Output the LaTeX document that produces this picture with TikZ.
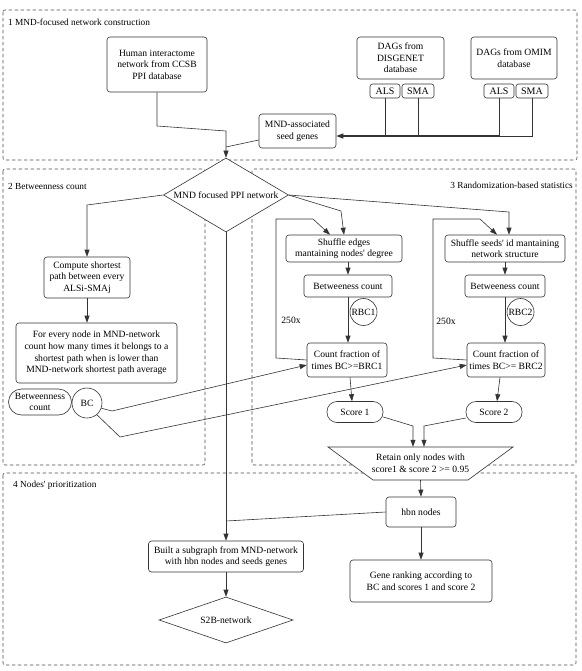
\documentclass[tikz,border=0pt]{standalone}
\usepackage{fontspec}
\setmainfont{Liberation Serif}[Ligatures=TeXOff]
\usetikzlibrary{arrows.meta,shapes.geometric,positioning}
\tikzset{
    flow-box/.style = {draw=black!80, fill=white, line width=0.6pt, rectangle, rounded corners=3pt, align=center, inner sep=1pt, font=\fontsize{9.6}{11.6}\selectfont},
    pill-box/.style = {flow-box, rounded corners=10pt},
    tag-box/.style = {flow-box, rounded corners=2.5pt, minimum height=14pt, font=\fontsize{10}{12}\selectfont},
    ring-node/.style = {draw=black!80, fill=white, circle, line width=0.6pt, inner sep=0pt, font=\fontsize{9.6}{11.6}\selectfont},
    choice-box/.style = {draw=black!80, fill=white, diamond, line width=0.6pt, inner sep=0pt, align=center, font=\fontsize{9.6}{11.6}\selectfont},
    section-frame/.style = {draw=black!70, dashed, dash pattern=on 3.5pt off 2.5pt, line width=0.6pt, rounded corners=2pt},
    section-title/.style = {font=\fontsize{9.3}{11}\selectfont, inner sep=0pt},
    plain-label/.style = {font=\fontsize{9.6}{11.6}\selectfont, inner sep=0pt},
    flow-line/.style = {draw=black!80, line width=0.6pt},
    flow-arrow/.style = {flow-line, -{Triangle[length=7pt,width=5pt]}},
}

\begin{document}
\begin{tikzpicture}[x=1pt, y=-1pt]
\useasboundingbox (0,0) rectangle (581,671);
% section frames
\draw[section-frame] (3,10) rectangle (577,160);
\draw[section-frame] (3,169) rectangle (205,465);
\draw[section-frame] (252,169) rectangle (576,465);
\draw[section-frame] (3,473) rectangle (576,665);
\node[section-title, anchor=west] (title-one) at (8,22) {1 MND-focused network construction};
\node[section-title, anchor=west] (title-two) at (8,186) {2 Betweenness count};
\node[section-title, anchor=east] (title-three) at (573,185) {3 Randomization-based statistics};
\node[section-title, anchor=west] (title-four) at (13,485) {4 Nodes' prioritization};

% 1 network construction
\node[flow-box, minimum width=100pt, minimum height=55pt] (human) at (157,64.5) {Human interactome\\network from CCSB\\PPI database};
\node[flow-box, minimum width=87pt, minimum height=42pt] (disgenet) at (400.5,58) {DAGs from\\DISGENET\\database};
\node[flow-box, minimum width=86pt, minimum height=42pt] (omim) at (514,58) {DAGs from OMIM\\database};
\node[tag-box, minimum width=30pt] (als-one) at (385,91) {ALS};
\node[tag-box, minimum width=32pt] (sma-one) at (418,91) {SMA};
\node[tag-box, minimum width=30pt] (als-two) at (499,91) {ALS};
\node[tag-box, minimum width=32pt] (sma-two) at (532,91) {SMA};
\node[flow-box, minimum width=77pt, minimum height=34pt] (seeds) at (297.5,131) {MND-associated\\seed genes};
\node[choice-box, aspect=1.7, minimum width=125pt, minimum height=74pt] (ppi) at (226,195) {MND focused PPI network};

\coordinate (seeds-in) at ([yshift=-5pt]seeds.east);
\draw[flow-arrow] (human.south) -- (157,126) -- (226,131) -- (ppi.north);
\draw[flow-line] ([yshift=-9pt]seeds.west) -- (226,147);
\draw[flow-line] (als-one.south) -- (als-one.south |- seeds-in);
\draw[flow-line] (sma-one.south) -- (sma-one.south |- seeds-in);
\draw[flow-line] (sma-two.south) |- (als-two.south |- seeds-in);
\draw[flow-line] (als-two.south) -- (als-two.south |- seeds-in);
\draw[flow-arrow, line width=1.2pt] (als-two.south |- seeds-in) -- (seeds-in);

% 2 betweenness count
\node[flow-box, minimum width=86pt, minimum height=41pt] (shortest) at (87,277.5) {Compute shortest\\path between every\\ALSi-SMAj};
\node[flow-box, minimum width=161pt, minimum height=60pt] (every) at (96.5,353) {For every node in MND-network\\count how many times it belongs to a\\shortest path when is lower than\\MND-network shortest path average};
\node[pill-box, rounded corners=13pt, minimum width=63pt, minimum height=26pt] (btw-label) at (40,402) {Betweenness\\count};
\node[ring-node, minimum size=30pt] (bc) at (87,403) {BC};

\draw[flow-arrow] (ppi.west) -- (87,205) -- (shortest.north);
\draw[flow-arrow] (shortest.south) -- (shortest.south |- every.north);

% 3 randomization-based statistics
\node[flow-box, minimum width=116pt, minimum height=27pt] (shuffle-edges) at (344,248.5) {Shuffle edges\\mantaining nodes' degree};
\node[flow-box, minimum width=88pt, minimum height=22pt] (betw-one) at (348,286) {Betweeness count};
\node[ring-node, minimum size=27pt] (rbc-one) at (363.5,312) {RBC1};
\node[flow-box, minimum width=80pt, minimum height=34pt] (count-one) at (347,360) {Count fraction of\\times BC>=BRC1};
\node[plain-label] (loop-one) at (291,320) {250x};

\node[flow-box, minimum width=120pt, minimum height=27pt] (shuffle-seeds) at (505,248.5) {Shuffle seeds' id mantaining\\network structure};
\node[flow-box, minimum width=80pt, minimum height=22pt] (betw-two) at (505,286) {Betweeness count};
\node[ring-node, minimum size=27pt] (rbc-two) at (520.5,312) {RBC2};
\node[flow-box, minimum width=78pt, minimum height=34pt] (count-two) at (506,360) {Count fraction of\\times BC>= BRC2};
\node[plain-label] (loop-two) at (446,321) {250x};

\node[pill-box, minimum width=56pt, minimum height=21pt] (score-one) at (355,412) {Score 1};
\node[pill-box, minimum width=56pt, minimum height=21pt] (score-two) at (494,412) {Score 2};
\draw[flow-line, fill=white] (328,447) -- (513,447) -- (468,480) -- (373,480) -- cycle;
\node[plain-label, align=center, minimum width=185pt, minimum height=33pt] (retain) at (420.5,463.5) {Retain only nodes with\\score1 \& score 2 >= 0.95};

\draw[flow-arrow] (ppi.east) -- (341,211) -- (shuffle-edges.north);
\draw[flow-arrow] (ppi.east) -- (509,212) -- ([xshift=4pt]shuffle-seeds.north);
\draw[flow-arrow] (betw-one.north |- shuffle-edges.south) -- (betw-one.north);
\draw[flow-arrow] (betw-one.south) -- (betw-one.south |- count-one.north);
\draw[flow-arrow] (count-one.west) -- (276,358) -- (276,219) -- (313,219) -- ([xshift=-14pt]shuffle-edges.north);
\draw[flow-arrow] (shuffle-seeds.south) -- (betw-two.north);
\draw[flow-arrow] (betw-two.south) -- (betw-two.south |- count-two.north);
\draw[flow-arrow] (count-two.west) -- (433,358) -- (433,219) -- (480,219) -- ([xshift=-8pt]shuffle-seeds.north);
\draw[flow-arrow] ([xshift=3pt]count-one.south) -- ([xshift=-3pt]score-one.north);
\draw[flow-arrow] ([xshift=-6pt]count-two.south) -- ([xshift=3pt]score-two.north);
\draw[flow-arrow] ([yshift=-5pt]score-one.east) -- (413,426) -- ([xshift=-7.5pt]retain.north);
\draw[flow-arrow] ([yshift=-6pt]score-two.west) -- (424,426) -- ([xshift=3.5pt]retain.north);
\draw[flow-arrow] (bc.-20) -- (112,411) -- ([yshift=-5pt]count-one.west);
\draw[flow-arrow] (bc.-50) -- (120,437) -- ([yshift=-5pt]count-two.west);

% 4 nodes' prioritization
\node[flow-box, minimum width=70pt, minimum height=30pt] (hbn) at (421,512) {hbn nodes};
\node[flow-box, minimum width=155pt, minimum height=31pt] (subgraph) at (226,556.5) {Built a subgraph from MND-network\\with hbn nodes and seeds genes};
\node[choice-box, aspect=2.9, minimum width=134pt, minimum height=46pt] (s2b) at (226,620) {S2B-network};
\node[flow-box, minimum width=142pt, minimum height=42pt] (ranking) at (421,581) {Gene ranking according to\\BC and scores 1 and score 2};

\draw[flow-arrow] (ppi.south) -- (subgraph.north);
\draw[flow-line] (hbn.west) -- (226,521);
\draw[flow-arrow] (retain.south) -- (hbn.north);
\draw[flow-arrow] (hbn.south) -- (ranking.north);
\draw[flow-arrow] (subgraph.south) -- (s2b.north);
\end{tikzpicture}
\end{document}
